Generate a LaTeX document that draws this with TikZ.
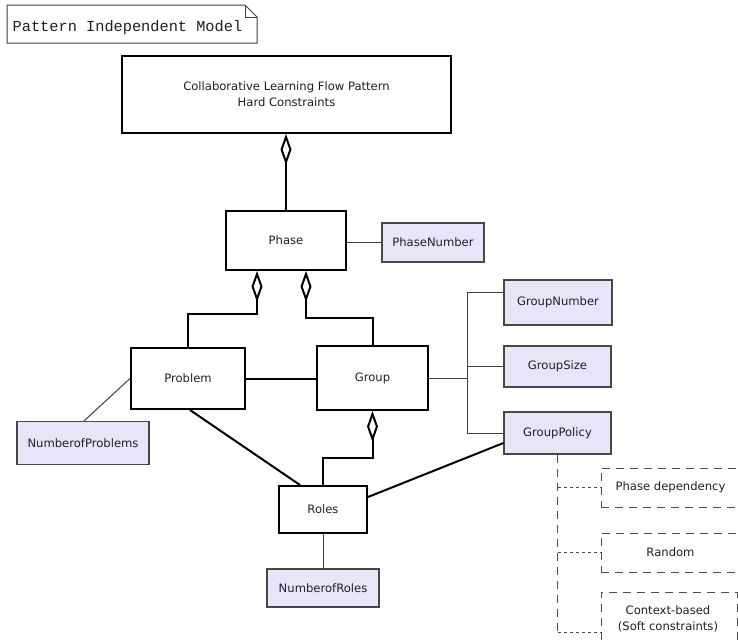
\documentclass[tikz,border=0pt]{standalone}
\usepackage{fontspec}
\setmainfont{DejaVu Sans}
\newfontfamily\notefont{Liberation Mono}
\usetikzlibrary{arrows.meta}
\definecolor{attrfill}{HTML}{E6E6F8}
\definecolor{inkcol}{HTML}{1E1E2A}
\begin{document}
\begin{tikzpicture}[x=1pt,y=-1pt,
  every node/.style={inner sep=0pt, align=center, text=inkcol,
    font=\fontsize{11.6}{16}\selectfont},
  entity/.style={draw=black, line width=2pt, fill=white},
  attr/.style={draw=black!72, line width=1.2pt, fill=attrfill},
  option/.style={draw=black!70, line width=1pt, dash pattern=on 8pt off 6pt},
  strong/.style={draw=black, line width=2pt},
  link/.style={draw=black!75, line width=1pt},
  optlink/.style={draw=black!70, line width=1pt, dash pattern=on 8pt off 6pt},
  dotlink/.style={draw=black!70, line width=1pt, dash pattern=on 3pt off 3pt},
  agg/.style={strong, {Diamond[open, length=31pt, width=11pt, line width=2pt]}-}
]
\useasboundingbox (0,0) rectangle (738,643);
\clip (0,0) rectangle (738,643);

% model title note with folded corner
\draw[black!75, line width=1pt] (7,5) -- (245,5) -- (257,17) -- (257,43) -- (7,43) -- cycle;
\draw[black!75, line width=1pt] (245,5) -- (245,17) -- (257,17);
\node[anchor=base west, font=\notefont\fontsize{15.3}{18}\selectfont] (title) at (12.5,31) {Pattern Independent Model};

% entities
\node[entity, minimum width=329pt, minimum height=77pt] (main) at (286.5,94.5)
  {Collaborative Learning Flow Pattern\\Hard Constraints};
\node[entity, minimum width=120pt, minimum height=59pt] (phase) at (286,240.5) {Phase};
\node[entity, minimum width=114pt, minimum height=61pt] (problem) at (188,378.5) {Problem};
\node[entity, minimum width=111pt, minimum height=64pt] (group) at (372.5,378) {Group};
\node[entity, minimum width=88pt, minimum height=47pt] (roles) at (323,509.5) {Roles};

% attributes
\node[attr, minimum width=102pt, minimum height=39pt] (phasenum) at (433,242.5) {PhaseNumber};
\node[attr, minimum width=132pt, minimum height=43pt] (numprob) at (83,443) {NumberofProblems};
\node[attr, minimum width=108pt, minimum height=45pt] (groupnum) at (558,302.5) {GroupNumber};
\node[attr, minimum width=107pt, minimum height=41pt] (groupsize) at (557.5,366.5) {GroupSize};
\node[attr, minimum width=107pt, minimum height=42pt] (grouppolicy) at (557.5,433) {GroupPolicy};
\node[attr, minimum width=112pt, minimum height=38pt] (numroles) at (323,588) {NumberofRoles};

% group policy options
\node[option, minimum width=139pt, minimum height=39pt] (phasedep) at (670.5,487.5) {Phase dependency};
\node[option, minimum width=139pt, minimum height=39pt] (random) at (670.5,552.5) {Random};
\node[option, minimum width=136pt, minimum height=80pt] (context) at (669,632) {};
\node (contexttext) at (668,618.5) {Context-based\\(Soft constraints)};

% aggregations
\draw[agg] (phase.north |- main.south) -- (phase.north);
\draw[agg] ([xshift=-29pt]phase.south) -- ++(0,43) -| (problem.north);
\draw[agg] ([xshift=20pt]phase.south) -- ++(0,47) -| (group.north);
\draw[agg] (group.south) -- ++(0,47) -| (roles.north);

% associations
\draw[strong] (problem.east) -- (problem.east -| group.west);
\draw[strong] ([xshift=2pt]problem.south) -- ([xshift=-23pt]roles.north);
\draw[strong] ([yshift=-10pt]grouppolicy.west) -- ([yshift=12.5pt]roles.east);

% attribute links
\coordinate (bus) at (467,0);
\draw[link] (phasenum.west -| phase.east) -- (phasenum.west);
\draw[link] (problem.west) -- ([xshift=1pt]numprob.north);
\draw[link] (group.east) -- (group.east -| bus);
\draw[link] ([yshift=10.5pt]groupnum.west) -| (bus |- grouppolicy.west) -- (grouppolicy.west);
\draw[link] (groupsize.west) -- (groupsize.west -| bus);
\draw[link] (roles.south) -- (numroles.north);

% option links
\draw[optlink] (grouppolicy.south) -- (grouppolicy.south |- context.west);
\draw[dotlink] (phasedep.west -| grouppolicy.south) -- (phasedep.west);
\draw[dotlink] (random.west -| grouppolicy.south) -- (random.west);
\draw[dotlink] (context.west -| grouppolicy.south) -- (context.west);
\end{tikzpicture}
\end{document}
